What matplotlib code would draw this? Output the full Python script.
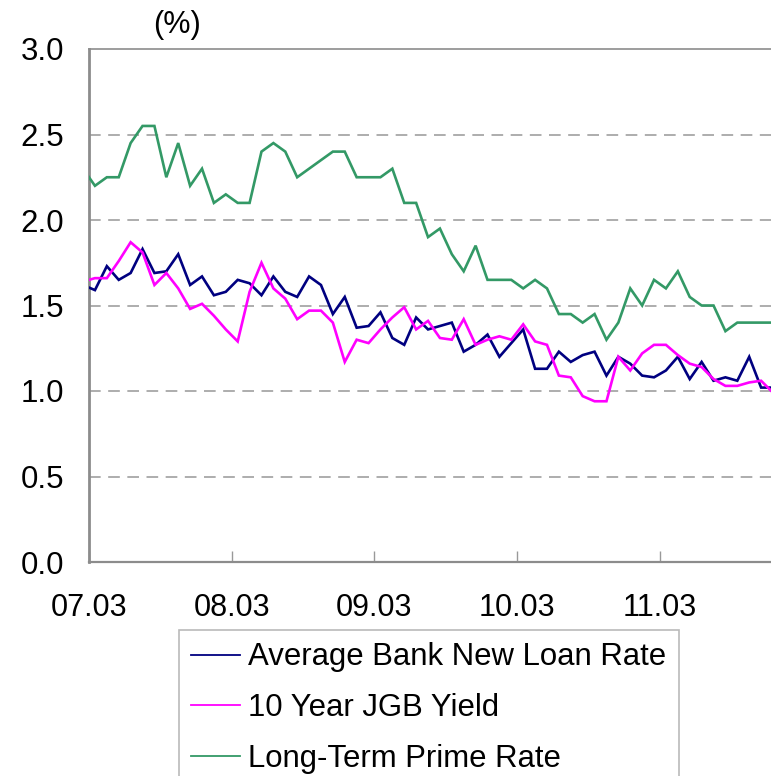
import matplotlib
matplotlib.use("Agg")
import matplotlib.pyplot as plt
from matplotlib.lines import Line2D
import pandas as pd
import numpy as np

# Monthly series, Feb 2007 - Dec 2011 (%)
months = pd.period_range("2007-02", "2011-12", freq="M")

loan_rate = [1.62, 1.59, 1.73, 1.65, 1.69, 1.83, 1.69, 1.70, 1.80, 1.62,
             1.67, 1.56, 1.58, 1.65, 1.63, 1.56, 1.67, 1.58, 1.55, 1.67,
             1.62, 1.45, 1.55, 1.37, 1.38, 1.46, 1.31, 1.27, 1.43, 1.36,
             1.38, 1.40, 1.23, 1.27, 1.33, 1.20, 1.28, 1.36, 1.13, 1.13,
             1.23, 1.17, 1.21, 1.23, 1.09, 1.20, 1.16, 1.09, 1.08, 1.12,
             1.20, 1.07, 1.17, 1.06, 1.08, 1.06, 1.20, 1.02, 1.02]

jgb_yield = [1.64, 1.66, 1.66, 1.76, 1.87, 1.81, 1.62, 1.69, 1.60, 1.48,
             1.51, 1.44, 1.36, 1.29, 1.58, 1.75, 1.60, 1.54, 1.42, 1.47,
             1.47, 1.40, 1.17, 1.30, 1.28, 1.36, 1.43, 1.49, 1.36, 1.41,
             1.31, 1.30, 1.42, 1.27, 1.30, 1.32, 1.30, 1.39, 1.29, 1.27,
             1.09, 1.08, 0.97, 0.94, 0.94, 1.20, 1.12, 1.22, 1.27, 1.27,
             1.21, 1.16, 1.14, 1.07, 1.03, 1.03, 1.05, 1.06, 0.99]

prime_rate = [2.30, 2.20, 2.25, 2.25, 2.45, 2.55, 2.55, 2.25, 2.45, 2.20,
              2.30, 2.10, 2.15, 2.10, 2.10, 2.40, 2.45, 2.40, 2.25, 2.30,
              2.35, 2.40, 2.40, 2.25, 2.25, 2.25, 2.30, 2.10, 2.10, 1.90,
              1.95, 1.80, 1.70, 1.85, 1.65, 1.65, 1.65, 1.60, 1.65, 1.60,
              1.45, 1.45, 1.40, 1.45, 1.30, 1.40, 1.60, 1.50, 1.65, 1.60,
              1.70, 1.55, 1.50, 1.50, 1.35, 1.40, 1.40, 1.40, 1.40]

series_names = ["Average Bank New Loan Rate", "10 Year JGB Yield",
                "Long-Term Prime Rate"]
series_colors = ["#000080", "#FF00FF", "#339966"]

tick_labels = ["07.03", "08.03", "09.03", "10.03", "11.03"]
y_ticks = [0.0, 0.5, 1.0, 1.5, 2.0, 2.5, 3.0]

# x position: months after March 2007, centred in each month's slot
start = pd.Period("2007-03", freq="M")
x = np.array([(m - start).n for m in months]) + 0.5

plt.rcParams["font.family"] = ["Liberation Sans", "DejaVu Sans"]

W, H = 771, 776
fig = plt.figure(figsize=(W / 100, H / 100), dpi=100)
left_px, right_px, top_px, bottom_px = 89, 773, 49, 562
ax = fig.add_axes([left_px / W, 1 - bottom_px / H,
                   (right_px - left_px) / W, (bottom_px - top_px) / H])

for vals, col in zip([loan_rate, jgb_yield, prime_rate], series_colors):
    ax.plot(x, vals, color=col, lw=1.9, solid_joinstyle="miter", zorder=3)

ax.set_xlim(0, 57.5)
ax.set_ylim(0, 3.0)

ax.set_yticks(y_ticks)
ax.set_yticklabels([f"{v:.1f}" for v in y_ticks])
ax.set_xticks([0, 12, 24, 36, 48])
ax.set_xticklabels(tick_labels)

ax.tick_params(axis="y", length=0, pad=18, labelsize=22.5)
ax.tick_params(axis="x", direction="in", length=8, width=1,
               color="#999999", pad=22, labelsize=22)

for v in y_ticks[1:-1]:
    ax.axhline(v, color="#a0a0a0", lw=1.2, ls=(0, (7, 4.5)), zorder=1)

for side in ["left", "bottom", "top"]:
    ax.spines[side].set_color("#8c8c8c")
ax.spines["left"].set_linewidth(2.0)
ax.spines["bottom"].set_linewidth(1.6)
ax.spines["top"].set_linewidth(1.2)
ax.spines["right"].set_visible(False)

fig.text(177 / W, 1 - 25 / H, "(%)", ha="center", va="center", fontsize=22)

handles = [Line2D([], [], color=c, lw=1.3) for c in series_colors]
leg = ax.legend(handles, series_names, loc="upper left",
                bbox_to_anchor=(179 / W, 1 - 630 / H),
                bbox_transform=fig.transFigure, fontsize=22.4,
                frameon=True, fancybox=False, edgecolor="#a8a8a8",
                handlelength=1.55, handletextpad=0.28, borderpad=0.4,
                labelspacing=0.66, borderaxespad=0)
leg.get_frame().set_linewidth(1.2)

fig.savefig("out.png", dpi=100)
